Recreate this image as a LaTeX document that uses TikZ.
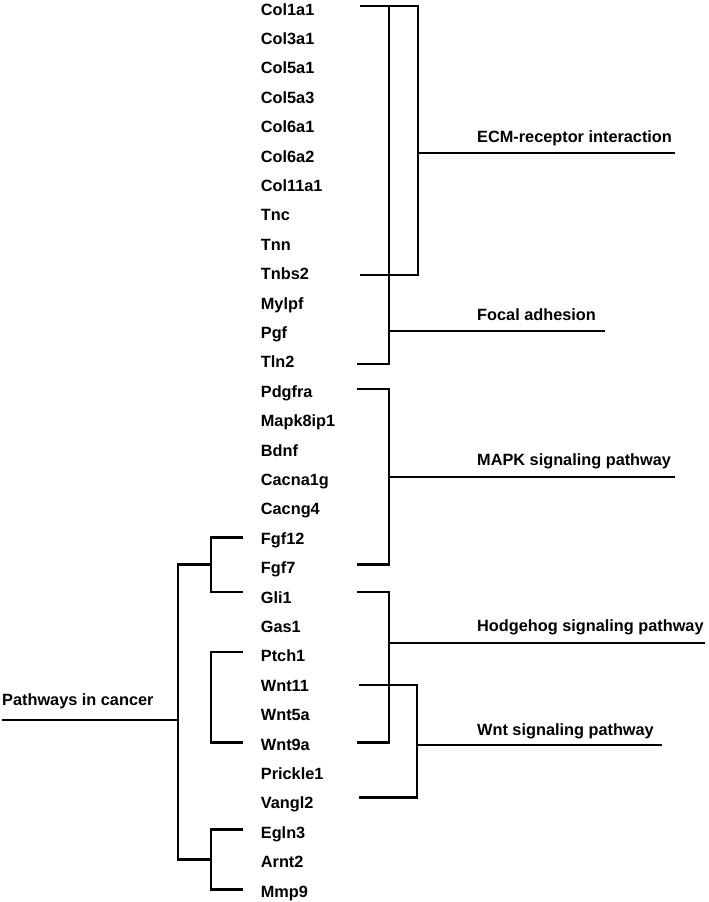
\documentclass[tikz,border=0pt]{standalone}
\usepackage{fontspec}
\setmainfont{Liberation Sans}
\usetikzlibrary{positioning}

\begin{document}
\begin{tikzpicture}[
    x=1pt, y=-1pt,
    gene/.style={anchor=base west, inner sep=0pt, font=\fontsize{16.3}{19}\selectfont\bfseries},
    term/.style={gene},
    link/.style={draw=black, line width=2.4pt, line join=miter},
  ]
  \useasboundingbox (0,0) rectangle (709,902);

  \foreach \g [count=\i from 0] in {Col1a1,Col3a1,Col5a1,Col5a3,Col6a1,Col6a2,Col11a1,Tnc,Tnn,Tnbs2,
      Mylpf,Pgf,Tln2,Pdgfra,Mapk8ip1,Bdnf,Cacna1g,Cacng4,Fgf12,Fgf7,Gli1,Gas1,Ptch1,Wnt11,Wnt5a,
      Wnt9a,Prickle1,Vangl2,Egln3,Arnt2,Mmp9}
    \node[gene] (g\i) at (260.7,{15+29.4*\i}) {\g};

  \node[term] (ecm)    at (477,142)   {ECM-receptor interaction};
  \node[term] (focal)  at (477,320)   {Focal adhesion};
  \node[term] (mapk)   at (477,465)   {MAPK signaling pathway};
  \node[term] (hh)     at (477,631.5) {Hodgehog signaling pathway};
  \node[term] (wnt)    at (477,735)   {Wnt signaling pathway};
  \node[term] (cancer) at (2,705)     {Pathways in cancer};

  % right side: pathway brackets
  \coordinate (ecmJ) at (418,153);
  \coordinate (ecmE) at (675,153);
  \coordinate (focJ) at (389,331);
  \coordinate (focE) at (605,331);
  \coordinate (mapJ) at (389,476.7);
  \coordinate (mapE) at (675,476.7);
  \coordinate (hhJ)  at (389,642.7);
  \coordinate (hhE)  at (705,642.7);
  \coordinate (wntJ) at (417,745);
  \coordinate (wntE) at (662,745);

  \draw[link] (360,6) -| (ecmJ) |- (360,275);
  \draw[link] (ecmJ) -- (ecmE);
  \draw[link] (389,6) |- (357,363.7);
  \draw[link] (focJ) -- (focE);
  \draw[link] (357,388.7) -| (mapJ) |- (357,564.3);
  \draw[link] (mapJ) -- (mapE);
  \draw[link] (357,591.7) -| (hhJ) |- (357,742.3);
  \draw[link] (hhJ) -- (hhE);
  \draw[link] (359,685) -| (wntJ) |- (359,797.3);
  \draw[link] (wntJ) -- (wntE);

  % left side: the cancer tree
  \coordinate (canS) at (2,720);
  \coordinate (canJ) at (178,720);
  \coordinate (upJ)  at (211,564.3);
  \coordinate (midJ) at (211,700);
  \coordinate (lowJ) at (211,859.3);

  \draw[link] (canS) -- (canJ);
  \draw[link] (upJ) -| (lowJ -| canJ) -- (lowJ);
  \draw[link] (243.3,537.3) -| (upJ) |- (243.3,591.7);
  \draw[link] (243.3,651.7) -| (midJ) |- (243.3,742.3);
  \draw[link] (243.3,829.3) -| (lowJ) |- (243.3,889.3);
\end{tikzpicture}
\end{document}
